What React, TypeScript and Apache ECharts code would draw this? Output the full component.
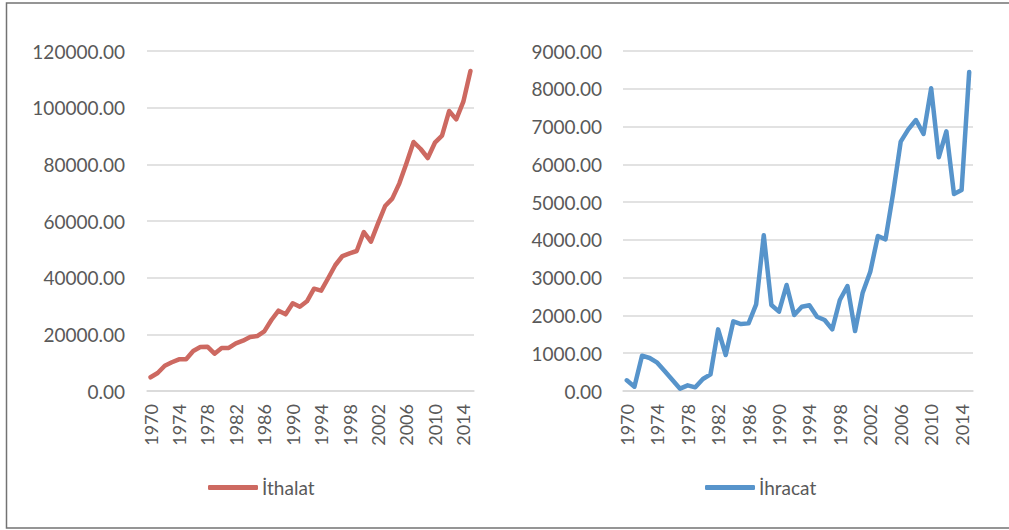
import React, { useEffect, useRef } from "react";
import * as echarts from "echarts";

const years: string[] = [];
for (let y = 1970; y <= 2015; y++) years.push(String(y));

const ithalat = [
  4840, 6350, 8930, 10130, 11180, 11180, 14120, 15530, 15650, 13170,
  15180, 15180, 16820, 17760, 19060, 19410, 21060, 25060, 28350, 27060,
  30940, 29760, 31650, 36110, 35400, 39880, 44470, 47640, 48580, 49410,
  56110, 52700, 59180, 65290, 67880, 73290, 80350, 87880, 85410, 82230,
  87640, 90110, 98820, 95880, 102110, 112940,
];

const ihracat = [
  283, 114, 935, 874, 750, 520, 290, 62, 150, 97,
  318, 441, 1632, 953, 1844, 1773, 1790, 2294, 4120, 2276,
  2100, 2806, 2012, 2232, 2268, 1967, 1879, 1632, 2409, 2779,
  1588, 2603, 3159, 4103, 4015, 5230, 6600, 6927, 7173, 6803,
  8012, 6186, 6874, 5215, 5320, 8444,
];

const leftName = "İthalat";
const rightName = "İhracat";

const FONT = "Lato";
const TEXT = "#595959";
const GRID = "#d9d9d9";

export default function App() {
  const ref = useRef<HTMLDivElement>(null);
  useEffect(() => {
    if (!ref.current) return;
    const chart = echarts.init(ref.current, null, { renderer: "svg" });
    const xAxisBase = (gridIndex: number) => ({
      type: "category" as const,
      gridIndex,
      data: years,
      boundaryGap: true,
      axisTick: { show: false },
      axisLine: { show: true, lineStyle: { color: GRID, width: 1.5 } },
      axisLabel: {
        interval: 3,
        rotate: 90,
        margin: 13,
        color: TEXT,
        fontFamily: FONT,
        fontSize: 18,
      },
      splitLine: { show: false },
    });
    const yAxisBase = (gridIndex: number, max: number, interval: number, margin: number) => ({
      type: "value" as const,
      gridIndex,
      min: 0,
      max,
      interval,
      axisLine: { show: false },
      axisTick: { show: false },
      axisLabel: {
        margin,
        color: TEXT,
        fontFamily: FONT,
        fontSize: 19,
        formatter: (v: number) => v.toFixed(2),
      },
      splitLine: { show: true, lineStyle: { color: GRID, width: 1.5 } },
    });
    const legendBase = (name: string, left: number) => ({
      data: [name],
      left,
      top: 478,
      padding: 0,
      icon: "roundRect",
      itemWidth: 50,
      itemHeight: 5,
      itemGap: 4,
      textStyle: { color: TEXT, fontFamily: FONT, fontSize: 19, padding: [0, 0, 0, -1] },
    });
    chart.setOption({
      animation: false,
      backgroundColor: "#ffffff",
      textStyle: { fontFamily: FONT },
      grid: [
        { left: 147, right: 535, top: 51, bottom: 139 },
        { left: 623, right: 36, top: 51, bottom: 139 },
      ],
      xAxis: [xAxisBase(0), xAxisBase(1)],
      yAxis: [yAxisBase(0, 120000, 20000, 22), yAxisBase(1, 9000, 1000, 21)],
      legend: [legendBase(leftName, 208), legendBase(rightName, 705)],
      series: [
        {
          name: leftName,
          type: "line",
          xAxisIndex: 0,
          yAxisIndex: 0,
          data: ithalat,
          showSymbol: false,
          symbol: "none",
          color: "#CD6961",
          lineStyle: { width: 4.5, color: "#CD6961", cap: "round", join: "round" },
        },
        {
          name: rightName,
          type: "line",
          xAxisIndex: 1,
          yAxisIndex: 1,
          data: ihracat,
          showSymbol: false,
          symbol: "none",
          color: "#5794CB",
          lineStyle: { width: 4.5, color: "#5794CB", cap: "round", join: "round" },
        },
      ],
      graphic: [
        {
          type: "rect",
          shape: { x: 6.5, y: 3, width: 1010, height: 525 },
          style: { fill: "none", stroke: "#737373", lineWidth: 1.5 },
          silent: true,
        },
      ],
    });
    return () => chart.dispose();
  }, []);
  return (
    <div
      ref={ref}
      style={{ position: "absolute", left: 0, top: 0, width: 1009, height: 530 }}
    />
  );
}
